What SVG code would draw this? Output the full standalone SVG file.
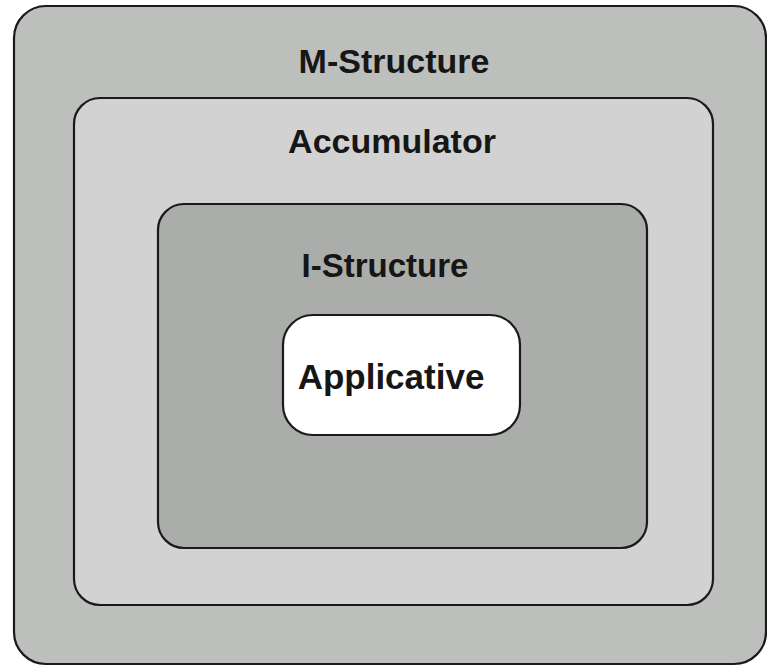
<svg xmlns="http://www.w3.org/2000/svg" width="767" height="666" viewBox="0 0 767 666">
  <style>
    .box { stroke: #1a1a1a; stroke-width: 2.2; }
    .label { font-family: "Liberation Sans", Arial, sans-serif; font-weight: bold; fill: #161616; text-anchor: middle; }
  </style>
  <rect width="767" height="666" fill="#ffffff"/>
  <g id="m-structure">
    <rect class="box" x="14" y="6" width="752" height="658" rx="32" ry="32" fill="#bcbfbc"/>
    <text class="label" x="394" y="73" font-size="34">M-Structure</text>
  </g>
  <g id="accumulator">
    <rect class="box" x="74" y="98" width="639" height="507" rx="26" ry="26" fill="#d1d2d1"/>
    <text class="label" x="392" y="153" font-size="34">Accumulator</text>
  </g>
  <g id="i-structure">
    <rect class="box" x="158" y="204" width="489" height="344" rx="26" ry="26" fill="#aaadaa"/>
    <text class="label" x="385" y="277" font-size="33">I-Structure</text>
  </g>
  <g id="applicative">
    <rect class="box" x="283" y="315" width="237" height="120" rx="30" ry="30" fill="#ffffff"/>
    <text class="label" x="391" y="389" font-size="35">Applicative</text>
  </g>
</svg>
